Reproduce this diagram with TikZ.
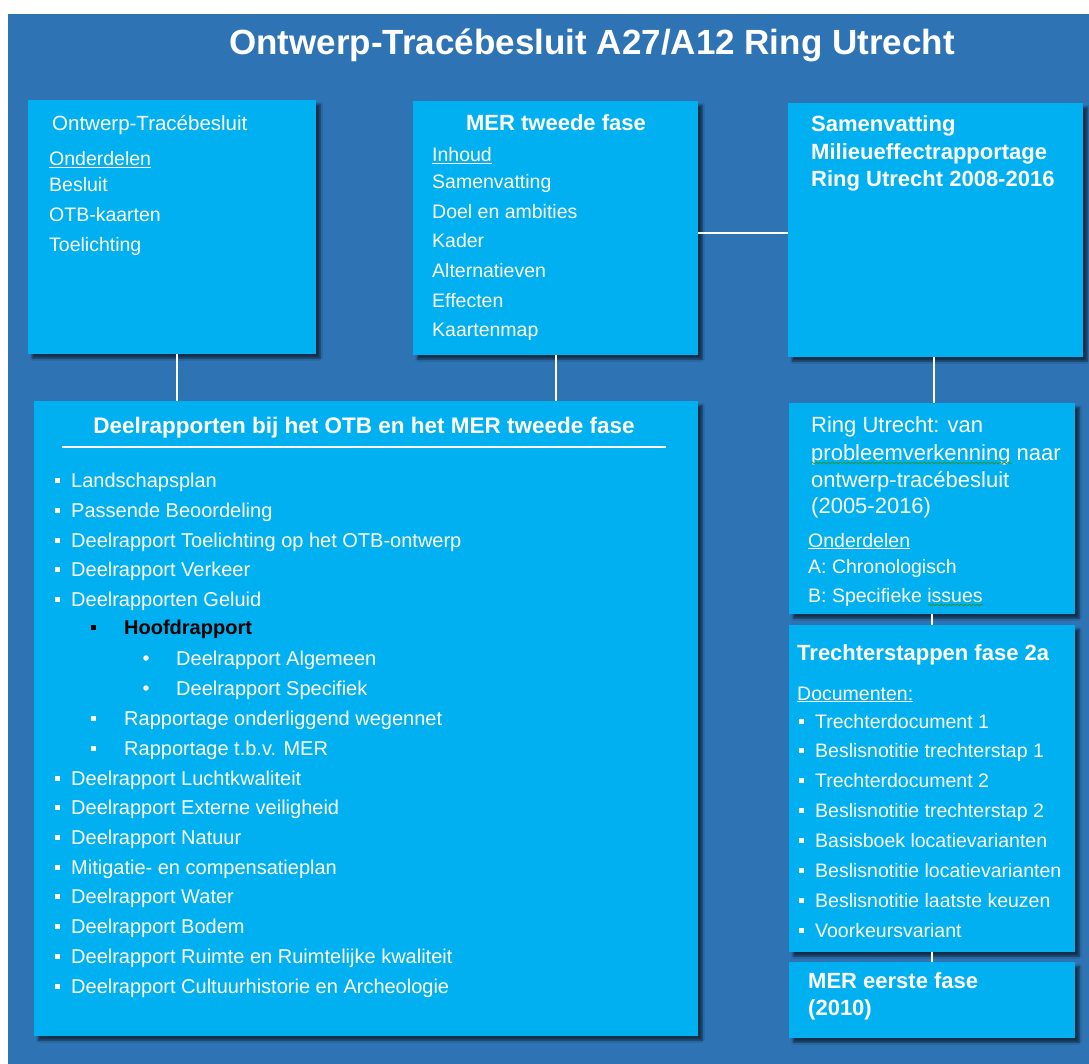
\documentclass[tikz,border=0pt]{standalone}
\usepackage{fontspec}
\setmainfont{Liberation Sans}
\usetikzlibrary{shadows.blur,decorations.pathmorphing,calc}
\definecolor{bgblue}{RGB}{46,116,181}
\definecolor{boxblue}{RGB}{0,176,240}
\definecolor{wavy}{RGB}{40,150,40}
\tikzset{
  box/.style={fill=boxblue, draw=none, anchor=north west, inner sep=0pt,
    blur shadow={shadow xshift=4pt, shadow yshift=-4pt, shadow blur steps=6, shadow opacity=60}},
  txt/.style={anchor=base west, inner sep=0pt, text=white, font=\fontsize{19.5}{23}\selectfont},
  dtxt/.style={txt, font=\fontsize{20}{23}\selectfont},
  hd/.style={anchor=base west, inner sep=0pt, text=white, font=\fontsize{22}{26}\bfseries\selectfont},
  bigtxt/.style={anchor=base west, inner sep=0pt, text=white, font=\fontsize{22}{26}\selectfont},
  conn/.style={draw=white, line width=2pt},
  bul/.style={fill=white, draw=none, minimum size=5pt, inner sep=0pt},
  rbul/.style={circle, fill=white, draw=none, minimum size=5.5pt, inner sep=0pt},
  wave/.style={draw=wavy, line width=0.7pt, decorate, decoration={snake, segment length=4pt, amplitude=0.9pt}}
}
\begin{document}
\begin{tikzpicture}[x=1pt,y=-1pt]
\useasboundingbox (0,0) rectangle (1089,1064);
\fill[white] (0,0) rectangle (1089,1064);
\fill[bgblue] (8,14) rectangle (1089,1064);

% title
\node[anchor=base, inner sep=0pt, text=white, font=\fontsize{35}{40}\bfseries\selectfont] (title) at (592,55) {Ontwerp-Tracébesluit A27/A12 Ring Utrecht};

% boxes
\node[box, minimum width=288pt, minimum height=254pt] (otb) at (28,100) {};
\node[box, minimum width=285pt, minimum height=254pt] (mer) at (413,101) {};
\node[box, minimum width=295pt, minimum height=254pt] (sam) at (788,103) {};
\node[box, minimum width=664pt, minimum height=635pt] (deel) at (34,401) {};
\node[box, minimum width=286pt, minimum height=211pt] (ring) at (789,403) {};
\node[box, minimum width=286pt, minimum height=327pt] (trech) at (789,625) {};
\node[box, minimum width=286pt, minimum height=76pt] (mer1) at (789,962) {};

% connectors
\draw[conn] ([xshift=5pt]otb.south) -- ([xshift=5pt]otb.south |- deel.north);
\draw[conn] (mer.south) -- (mer.south |- deel.north);
\draw[conn] ([yshift=-5pt]mer.east) -- ([yshift=-5pt]mer.east -| sam.west);
\draw[conn] ([xshift=-2pt]sam.south) -- ([xshift=-2pt]sam.south |- ring.north);
\draw[conn] (ring.south) -- (trech.north);
\draw[conn] (trech.south) -- (mer1.north);

% OTB box
\node[txt, font=\fontsize{20.5}{24}\selectfont] (otbh) at (52,131) {Ontwerp-Tracébesluit};
\node[txt] (otb1) at (49,166) {\underline{Onderdelen}};
\node[txt] (otb2) at (49,192) {Besluit};
\node[txt] (otb3) at (49,222) {OTB-kaarten};
\node[txt] (otb4) at (49,252) {Toelichting};

% MER tweede fase
\node[hd, anchor=base] (merh) at (556,131) {MER tweede fase};
\node[txt] (mer0) at (432,162) {\underline{Inhoud}};
\node[txt] (mer2) at (432,189) {Samenvatting};
\node[txt] (mer3) at (432,219) {Doel en ambities};
\node[txt] (mer4) at (432,248) {Kader};
\node[txt] (mer5) at (432,278) {Alternatieven};
\node[txt] (mer6) at (432,308) {Effecten};
\node[txt] (mer7) at (432,337) {Kaartenmap};

% Samenvatting
\node[hd] (sam1) at (811,132) {Samenvatting};
\node[hd] (sam2) at (811,160) {Milieueffectrapportage};
\node[hd] (sam3) at (811,187) {Ring Utrecht 2008-2016};

% Ring Utrecht
\node[bigtxt] (ring1) at (811,432) {Ring Utrecht: van};
\node[bigtxt] (ring2) at (811,460) {probleemverkenning naar};
\node[bigtxt] (ring3) at (811,487) {ontwerp-tracébesluit};
\node[bigtxt] (ring4) at (811,513) {(2005-2016)};
\node[txt] (ring5) at (808,547) {\underline{Onderdelen}};
\node[txt] (ring6) at (808,573) {A: Chronologisch};
\node[txt] (ring7) at (808,602) {B: Specifieke issues};
\draw[wave] (811,463) -- (1012,463);
\draw[wave] (928,605) -- (983,605);

% Trechterstappen
\node[hd] (tr0) at (797,660) {Trechterstappen fase 2a};
\node[txt] (tr1) at (797,700) {\underline{Documenten:}};
\foreach \t [count=\i] in {Trechterdocument 1, Beslisnotitie trechterstap 1, Trechterdocument 2, Beslisnotitie trechterstap 2, Basisboek locatievarianten, Beslisnotitie locatievarianten, Beslisnotitie laatste keuzen, Voorkeursvariant}{
  \pgfmathsetmacro{\yy}{728+(\i-1)*29.9}
  \node[bul] (trb\i) at (801.5,\yy-7) {};
  \node[txt] (trt\i) at (815,\yy) {\t};
}

% MER eerste fase
\node[hd] (me1) at (808,988) {MER eerste fase};
\node[hd] (me2) at (808,1015) {(2010)};

% Deelrapporten
\node[anchor=base, inner sep=0pt, text=white, font=\fontsize{22.5}{26}\bfseries\selectfont] (dh) at (364,433) {Deelrapporten bij het OTB en het MER tweede fase};
\draw[draw=white, line width=2pt] (62,447) -- (666,447);

\foreach \t/\yy [count=\i] in {Landschapsplan/487, Passende Beoordeling/517, Deelrapport Toelichting op het OTB-ontwerp/547, Deelrapport Verkeer/576, Deelrapporten Geluid/606}{
  \node[bul] (db\i) at (57.5,\yy-7) {};
  \node[dtxt] (dt\i) at (71,\yy) {\t};
}
\node[bul, fill=black] (hb) at (93,627) {};
\node[dtxt, text=black, font=\fontsize{20}{23}\bfseries\selectfont] (ht) at (124,634) {Hoofdrapport};
\node[rbul] (ab1) at (146,658) {};
\node[dtxt] (at1) at (176,665) {Deelrapport Algemeen};
\node[rbul] (ab2) at (146,688) {};
\node[dtxt] (at2) at (176,695) {Deelrapport Specifiek};
\node[bul] (rb1) at (93,718) {};
\node[dtxt] (rt1) at (124,725) {Rapportage onderliggend wegennet};
\node[bul] (rb2) at (93,748) {};
\node[dtxt] (rt2) at (124,755) {Rapportage t.b.v. MER};

\foreach \t/\yy [count=\i] in {Deelrapport Luchtkwaliteit/785, Deelrapport Externe veiligheid/814, Deelrapport Natuur/844, Mitigatie- en compensatieplan/874, Deelrapport Water/903, Deelrapport Bodem/933, Deelrapport Ruimte en Ruimtelijke kwaliteit/963, Deelrapport Cultuurhistorie en Archeologie/993}{
  \node[bul] (eb\i) at (57.5,\yy-7) {};
  \node[dtxt] (et\i) at (71,\yy) {\t};
}
\end{tikzpicture}
\end{document}
